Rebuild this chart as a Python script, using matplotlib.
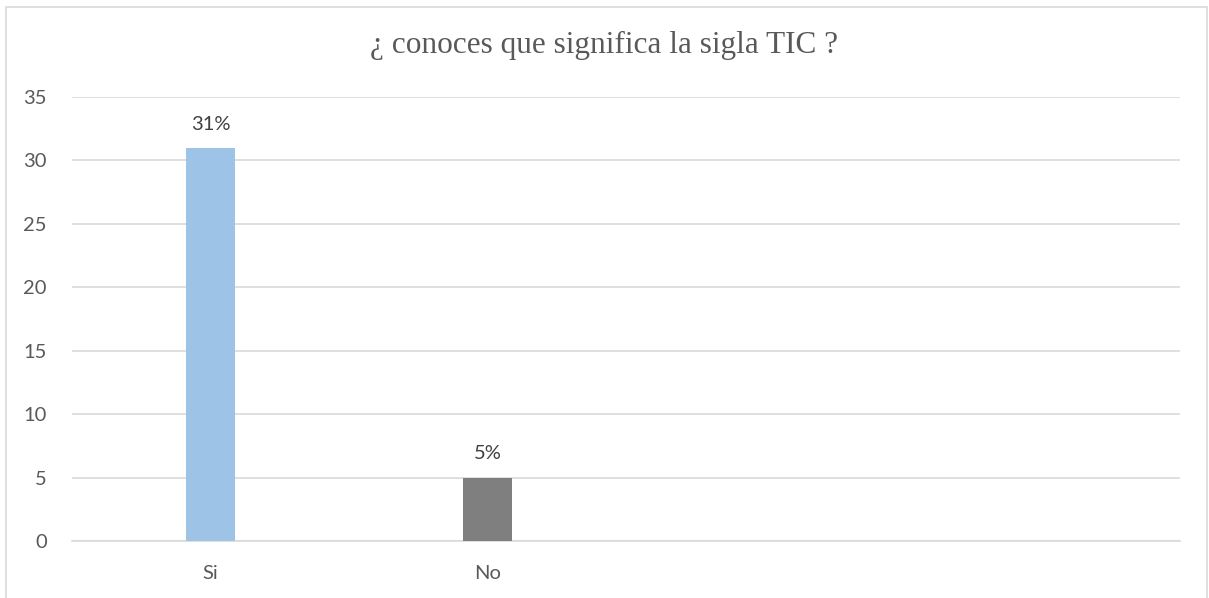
import matplotlib
matplotlib.use("Agg")
import matplotlib.pyplot as plt
from matplotlib.patches import Rectangle

categories = ["Si", "No", "", ""]
values = [31, 5, None, None]
labels = ["31%", "5%"]
colors = ["#9DC3E6", "#7F7F7F"]
yticks = [0, 5, 10, 15, 20, 25, 30, 35]
title = "¿ conoces que significa la sigla TIC ?"

fig = plt.figure(figsize=(12.09, 5.98), dpi=100)
ax = fig.add_axes([72/1209, 1-541/598, (1180-72)/1209, (541-97)/598])

x = list(range(len(categories)))
for i, v in enumerate(values):
    if v is None:
        continue
    ax.bar(i, v, width=0.177, color=colors[i], zorder=3)
    ax.text(i, v + 1.2, labels[i], ha="center", va="bottom", fontsize=14.5,
            color="#404040", family="Lato")

ax.set_xlim(-0.5, len(categories) - 0.5)
ax.set_ylim(0, 35)
ax.set_yticks(yticks)
ax.set_yticklabels([str(t) for t in yticks], fontsize=14.5, color="#595959", family="Lato")
ax.set_xticks(x)
ax.set_xticklabels(categories, fontsize=14.5, color="#595959", family="Lato")
ax.tick_params(axis="both", length=0)
ax.tick_params(axis="y", pad=18)
ax.tick_params(axis="x", pad=17)
ax.grid(axis="y", color="#D9D9D9", linewidth=1.2, zorder=0)
for s in ["top", "right", "left"]:
    ax.spines[s].set_visible(False)
ax.spines["bottom"].set_color("#D9D9D9")
ax.spines["bottom"].set_linewidth(1.2)

fig.text(0.5, 1 - 45/598, title, ha="center", va="center", fontsize=22.5,
         color="#595959", family="Liberation Serif")

# chart border
border = Rectangle((6/1209, -0.01), (1207-6)/1209, 1 - 7/598 + 0.01, transform=fig.transFigure,
                   fill=False, edgecolor="#D9D9D9", linewidth=1.2)
fig.add_artist(border)

fig.savefig("out.png", dpi=100)
